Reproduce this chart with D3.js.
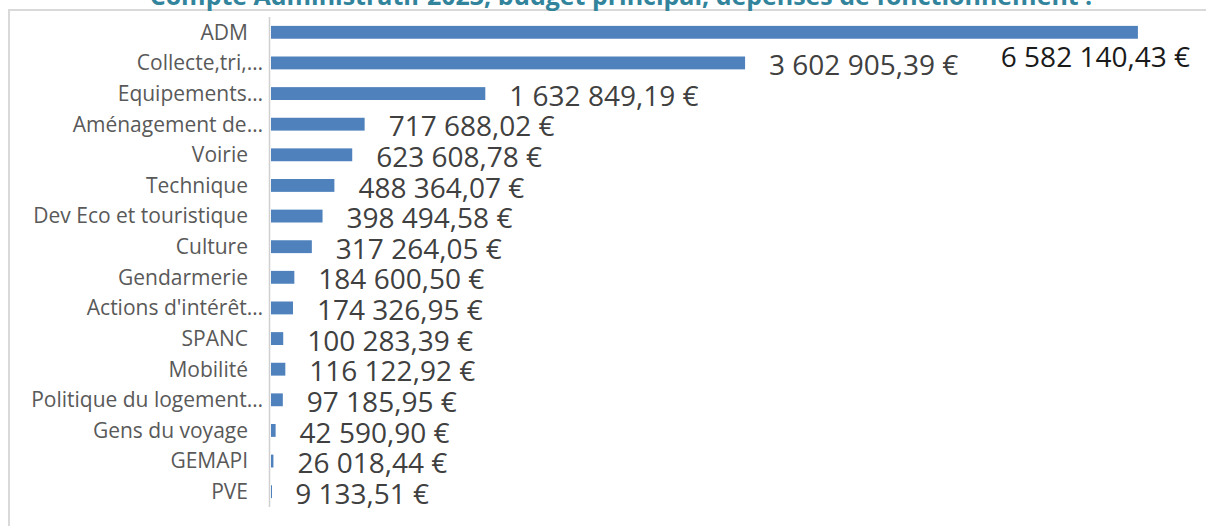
<!DOCTYPE html>
<html lang="fr">
<head>
<meta charset="UTF-8">
<title>Compte Administratif 2023 - dépenses de fonctionnement</title>
<script src="https://cdn.jsdelivr.net/npm/d3@7"></script>
<style>
  html, body { margin: 0; padding: 0; background: #ffffff; }
  svg { display: block; }
  text { font-family: "Open Sans", "Noto Sans", sans-serif; }
</style>
</head>
<body>
<svg width="1206" height="526"></svg>
<script>
    // data
    const title = "Compte Administratif 2023, budget principal, dépenses de fonctionnement :";
    const categories = ["ADM", "Collecte,tri,…", "Equipements…", "Aménagement de…", "Voirie", "Technique",
        "Dev Eco et touristique", "Culture", "Gendarmerie", "Actions d'intérêt…", "SPANC", "Mobilité",
        "Politique du logement…", "Gens du voyage", "GEMAPI", "PVE"];
    const values = [6582140.43, 3602905.39, 1632849.19, 717688.02, 623608.78, 488364.07,
        398494.58, 317264.05, 184600.50, 174326.95, 100283.39, 116122.92,
        97185.95, 42590.90, 26018.44, 9133.51];
    const xMax = 7000000;

    const svg = d3.select("svg");

    // frame (top and left edges visible)
    svg.append("path")
        .attr("d", "M9,526 L9,10 L1206,10")
        .attr("fill", "none")
        .attr("stroke", "#d9d9d9")
        .attr("stroke-width", 2);

    // title, cut at the top of the picture
    const t = svg.append("text")
        .attr("x", 621)
        .attr("y", 5)
        .attr("text-anchor", "middle")
        .attr("fill", "#31849b")
        .attr("font-weight", "bold")
        .attr("font-size", 20)
        .text(title);
    const tw = t.node().getComputedTextLength();
    t.attr("font-size", 20 * 943 / tw);

    const x = d3.scaleLinear().domain([0, xMax]).range([270, 1193]);
    const y = d3.scaleBand().domain(categories).range([17, 507])
        .paddingInner(0.58).paddingOuter(0.29);

    // vertical axis line
    svg.append("line")
        .attr("x1", 269.5).attr("x2", 269.5)
        .attr("y1", 17).attr("y2", 507)
        .attr("stroke", "#d0d0d0")
        .attr("stroke-width", 1.5);

    const rows = categories.map((c, i) => ({cat: c, val: values[i]}));

    // bars
    svg.append("g")
        .selectAll("rect")
        .data(rows)
        .enter()
        .append("rect")
        .attr("x", x(0) + 1)
        .attr("y", d => y(d.cat))
        .attr("width", d => Math.max(1, x(d.val) - x(0) - 1))
        .attr("height", y.bandwidth())
        .attr("fill", "#4f81bd");

    // category labels
    svg.append("g")
        .selectAll("text")
        .data(rows)
        .enter()
        .append("text")
        .attr("x", d => d.cat.endsWith("…") ? 263 : 248)
        .attr("y", d => y(d.cat) + y.bandwidth() / 2)
        .attr("dy", "0.35em")
        .attr("text-anchor", "end")
        .attr("font-size", 21)
        .attr("fill", "#595959")
        .text(d => d.cat);

    // value labels, French format
    const fmt = v => {
        const parts = v.toFixed(2).split(".");
        return parts[0].replace(/\B(?=(\d{3})+(?!\d))/g, "\u00a0") + "," + parts[1] + "\u00a0€";
    };

    svg.append("g")
        .selectAll("text")
        .data(rows)
        .enter()
        .append("text")
        .attr("x", (d, i) => i === 0 ? 1190 : x(d.val) + 24)
        .attr("y", (d, i) => i === 0 ? 57 : y(d.cat) + y.bandwidth() / 2 + 2)
        .attr("dy", "0.36em")
        .attr("text-anchor", (d, i) => i === 0 ? "end" : "start")
        .attr("font-size", 28)
        .attr("fill", (d, i) => i === 0 ? "#1a1a1a" : "#404040")
        .text(d => fmt(d.val));
</script>
</body>
</html>
